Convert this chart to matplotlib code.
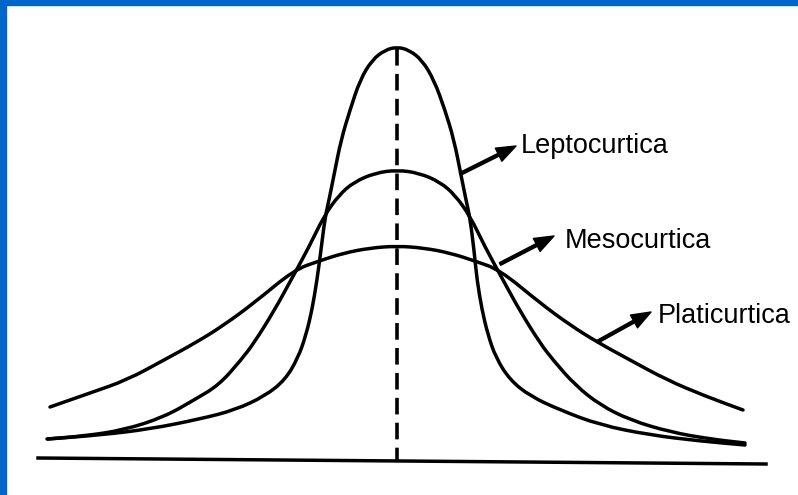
import matplotlib
matplotlib.use("Agg")
import matplotlib.pyplot as plt
from matplotlib.patches import Rectangle, PathPatch
from matplotlib.path import Path

# Curves (pixel-like coordinates, y grows downward)
lepto_x = [48, 100, 150, 200, 235, 265, 285, 298, 306, 312, 317, 321, 325, 329, 334, 341, 350, 360, 372, 385, 397,
           409, 422, 434, 445, 454, 461, 466, 470, 474, 477, 482, 488, 496, 510, 530, 560, 600, 650, 700, 745]
lepto_y = [439, 435, 429, 419, 410, 396, 380, 358, 335, 310, 280, 250, 218, 200, 175, 140, 110, 80, 60, 50, 47,
           50, 60, 80, 110, 140, 175, 200, 218, 250, 280, 310, 335, 358, 380, 396, 410, 425, 435, 441, 445]

meso_x = [47, 84, 124, 164, 194, 219, 241, 254, 274, 291, 309, 324, 339, 354, 375, 397,
          419, 440, 455, 470, 485, 503, 520, 540, 553, 575, 600, 630, 670, 710, 745]
meso_y = [439, 436, 430, 417, 400, 385, 360, 343, 311, 280, 247, 216, 195, 182, 173, 170,
          173, 182, 195, 216, 247, 280, 311, 343, 360, 385, 405, 420, 432, 439, 443]

plati_x = [50, 90, 127, 164, 197, 224, 254, 294, 319, 344, 370, 397,
           424, 450, 475, 500, 540, 570, 597, 630, 667, 705, 743]
plati_y = [407, 393, 380, 360, 342, 325, 303, 270, 261, 253, 248, 246,
           248, 253, 261, 270, 303, 325, 342, 360, 380, 396, 410]

baseline_x = [38, 766]
baseline_y = [458, 464]
center_x = 397
center_y = [49, 460]

labels = ["Leptocurtica", "Mesocurtica", "Platicurtica"]
arrow_start = [(460, 174), (500, 264), (597, 342)]
arrow_tip = [(516, 146), (554, 236), (651, 312)]
label_pos = [(521, 153), (565, 248), (658, 323)]


def smooth_path(xs, ys):
    """Quadratic Bezier path through the midpoints of the read points."""
    pts = list(zip(xs, ys))
    verts = [pts[0]]
    codes = [Path.MOVETO]
    mids = [((pts[i][0] + pts[i + 1][0]) / 2, (pts[i][1] + pts[i + 1][1]) / 2) for i in range(len(pts) - 1)]
    verts.append(mids[0])
    codes.append(Path.LINETO)
    for i in range(1, len(pts) - 1):
        verts += [pts[i], mids[i]]
        codes += [Path.CURVE3, Path.CURVE3]
    verts.append(pts[-1])
    codes.append(Path.LINETO)
    return Path(verts, codes)


fig = plt.figure(figsize=(7.98, 4.95), dpi=100)
ax = fig.add_axes([0, 0, 1, 1])
ax.set_xlim(0, 798)
ax.set_ylim(495, 0)
ax.axis("off")
fig.patch.set_facecolor("white")

blue = "#0066CC"
ax.add_patch(Rectangle((0, 0), 6, 495, color=blue, zorder=5))
ax.add_patch(Rectangle((0, 0), 798, 5, color=blue, zorder=5))

lw = 2.5
for xs, ys in [(lepto_x, lepto_y), (meso_x, meso_y), (plati_x, plati_y)]:
    ax.add_patch(PathPatch(smooth_path(xs, ys), fill=False, edgecolor="black", lw=lw,
                           joinstyle="round", capstyle="round"))

ax.plot(baseline_x, baseline_y, color="black", lw=2.5)
ax.plot([center_x, center_x], center_y, color="black", lw=2.6, linestyle=(0, (4.6, 2.3)))

for lab, s, t, p in zip(labels, arrow_start, arrow_tip, label_pos):
    ax.annotate("", xy=t, xytext=s,
                arrowprops=dict(width=2.1, headwidth=10.5, headlength=14, shrink=0, color="black"))
    ax.text(p[0], p[1], lab, fontsize=19.5, family="Liberation Sans", color="black",
            ha="left", va="baseline")

fig.savefig("out.png", dpi=100)
